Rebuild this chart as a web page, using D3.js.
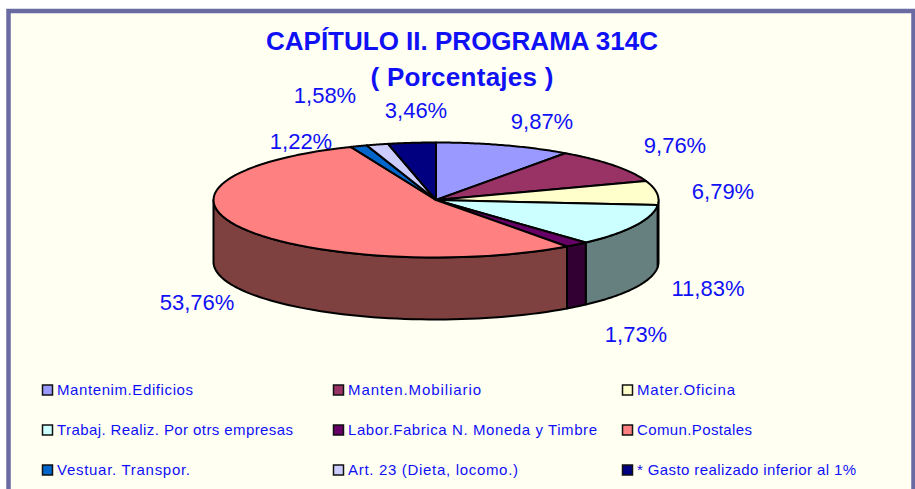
<!DOCTYPE html>
<html><head><meta charset="utf-8">
<script src="https://cdn.jsdelivr.net/npm/d3@7"></script>
<style>html,body{margin:0;padding:0;background:#fff}svg{display:block}text{font-family:"Liberation Sans",Arial,sans-serif;fill:#1010F5}</style>
</head><body><svg id="c" width="915" height="489"></svg>
<script>
const categories=["Mantenim.Edificios","Manten.Mobiliario","Mater.Oficina","Trabaj. Realiz. Por otrs empresas","Labor.Fabrica N. Moneda y Timbre","Comun.Postales","Vestuar. Transpor.","Art. 23 (Dieta, locomo.)","* Gasto realizado inferior al 1%"];
const values=[9.87,9.76,6.79,11.83,1.73,53.76,1.22,1.58,3.46];
const valueLabels=["9,87%","9,76%","6,79%","11,83%","1,73%","53,76%","1,22%","1,58%","3,46%"];
const colors=["#9999FF","#993366","#FFFFCC","#CCFFFF","#660066","#FF8080","#0066CC","#CCCCFF","#000080"];
const titleLines=["CAPÍTULO II. PROGRAMA 314C","( Porcentajes )"];

const W=915,H=489,cx=436,cy=200,rx=222.5,ry=57.5,depth=62;
const labelAnchors=[[542,121],[675,145],[723,191],[708,288],[636,334],[197,302],[301,141],[325,95],[416,110]];
const legendWidths=[136,133,98,236,249,115,133,170,219];

const svg=d3.select("#c");
svg.append("rect").attr("x",8.5).attr("y",11).attr("width",905).attr("height",H+5-11)
  .attr("fill","#FFFFF2").attr("stroke","#6B6BA3").attr("stroke-width",4.5);

svg.selectAll("text.title").data(titleLines).join("text").attr("class","title")
  .attr("x",462).attr("y",(d,i)=>50+i*36).attr("text-anchor","middle")
  .attr("font-size",26).attr("font-weight","bold").attr("textLength",(d,i)=>i?183:392).text(d=>d);

const arcs=d3.pie().sort(null).value(d=>d)(values);
const px=a=>cx+rx*Math.sin(a), py=a=>cy-ry*Math.cos(a);
const line=d3.line().x(d=>d[0]).y(d=>d[1]).curve(d3.curveLinear);

// outer walls: only the part of each slice on the front half (angle between PI/2 and 3PI/2)
const g=svg.append("g").attr("stroke","#000").attr("stroke-width",2).attr("stroke-linejoin","round");
arcs.forEach((a,i)=>{
  const s=Math.max(a.startAngle,Math.PI/2), e=Math.min(a.endAngle,3*Math.PI/2);
  if(e<=s) return;
  const ang=d3.range(0,61).map(k=>s+(e-s)*k/60);
  const pts=ang.map(t=>[px(t),py(t)]).concat(ang.slice().reverse().map(t=>[px(t),py(t)+depth]));
  g.append("path").attr("d",line(pts)+"Z").attr("fill",d3.color(colors[i]).darker(1.95).formatHex());
});
// top faces
arcs.forEach((a,i)=>{
  const ang=d3.range(0,61).map(k=>a.startAngle+(a.endAngle-a.startAngle)*k/60);
  const pts=[[cx,cy]].concat(ang.map(t=>[px(t),py(t)]));
  g.append("path").attr("d",line(pts)+"Z").attr("fill",colors[i]);
});

svg.selectAll("text.val").data(valueLabels).join("text").attr("class","val")
  .attr("x",(d,i)=>labelAnchors[i][0]).attr("y",(d,i)=>labelAnchors[i][1]+7.5)
  .attr("text-anchor","middle").attr("font-size",22).text(d=>d);

const colX=[42,333,622],rowY=[390,430,470];
const leg=svg.selectAll("g.leg").data(categories).join("g").attr("class","leg")
  .attr("transform",(d,i)=>`translate(${colX[i%3]},${rowY[Math.floor(i/3)]})`);
leg.append("rect").attr("x",0.5).attr("y",-5).attr("width",10).attr("height",10)
  .attr("fill",(d,i)=>colors[i]).attr("stroke","#111").attr("stroke-width",1.5);
leg.append("text").attr("x",15).attr("y",5).attr("font-size",15)
  .attr("textLength",(d,i)=>legendWidths[i]).attr("lengthAdjust","spacing").text(d=>d);
</script></body></html>
